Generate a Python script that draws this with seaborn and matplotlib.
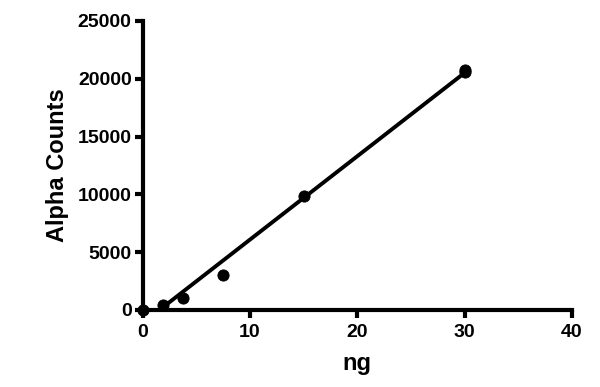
import numpy as np
import pandas as pd
import matplotlib
matplotlib.use("Agg")
import matplotlib.pyplot as plt
import seaborn as sns

# Data
ng = [0, 1.875, 3.75, 7.5, 15, 30, 30]
counts = [0, 450, 1050, 3050, 9850, 20750, 20550]
x_ticks = [0, 10, 20, 30, 40]
y_ticks = [0, 5000, 10000, 15000, 20000, 25000]

data = pd.DataFrame({"ng": ng, "counts": counts})

sns.set_style("ticks")
plt.rcParams["font.family"] = ["Liberation Sans", "DejaVu Sans"]
plt.rcParams["font.weight"] = "bold"
plt.rcParams["text.color"] = "black"
plt.rcParams["axes.labelcolor"] = "black"
plt.rcParams["xtick.color"] = "black"
plt.rcParams["ytick.color"] = "black"

fig = plt.figure(figsize=(6, 3.87), dpi=100)
ax = fig.add_axes([0.238, 0.199, 0.715, 0.747])

# linear fit line
sns.regplot(data=data, x="ng", y="counts", ci=None, scatter=False,
            color="black", line_kws={"linewidth": 2.8}, ax=ax)
sns.scatterplot(data=data, x="ng", y="counts", color="black", s=65,
                edgecolor="black", clip_on=False, zorder=5, ax=ax)

ax.set_xlim(0, 40)
ax.set_ylim(0, 25000)
ax.set_xticks(x_ticks)
ax.set_yticks(y_ticks)
ax.set_xticklabels([str(t) for t in x_ticks], fontsize=14, fontweight="bold")
ax.set_yticklabels([str(t) for t in y_ticks], fontsize=14, fontweight="bold")
ax.set_xlabel("ng", fontsize=17, fontweight="bold", labelpad=8)
ax.set_ylabel("Alpha Counts", fontsize=17, fontweight="bold", labelpad=6)

for side in ["top", "right"]:
    ax.spines[side].set_visible(False)
for side in ["left", "bottom"]:
    ax.spines[side].set_linewidth(3)
    ax.spines[side].set_color("black")
ax.tick_params(axis="both", width=3, length=6, direction="out", pad=2)
ax.tick_params(axis="x", pad=4)

fig.savefig("out.png", dpi=100)
